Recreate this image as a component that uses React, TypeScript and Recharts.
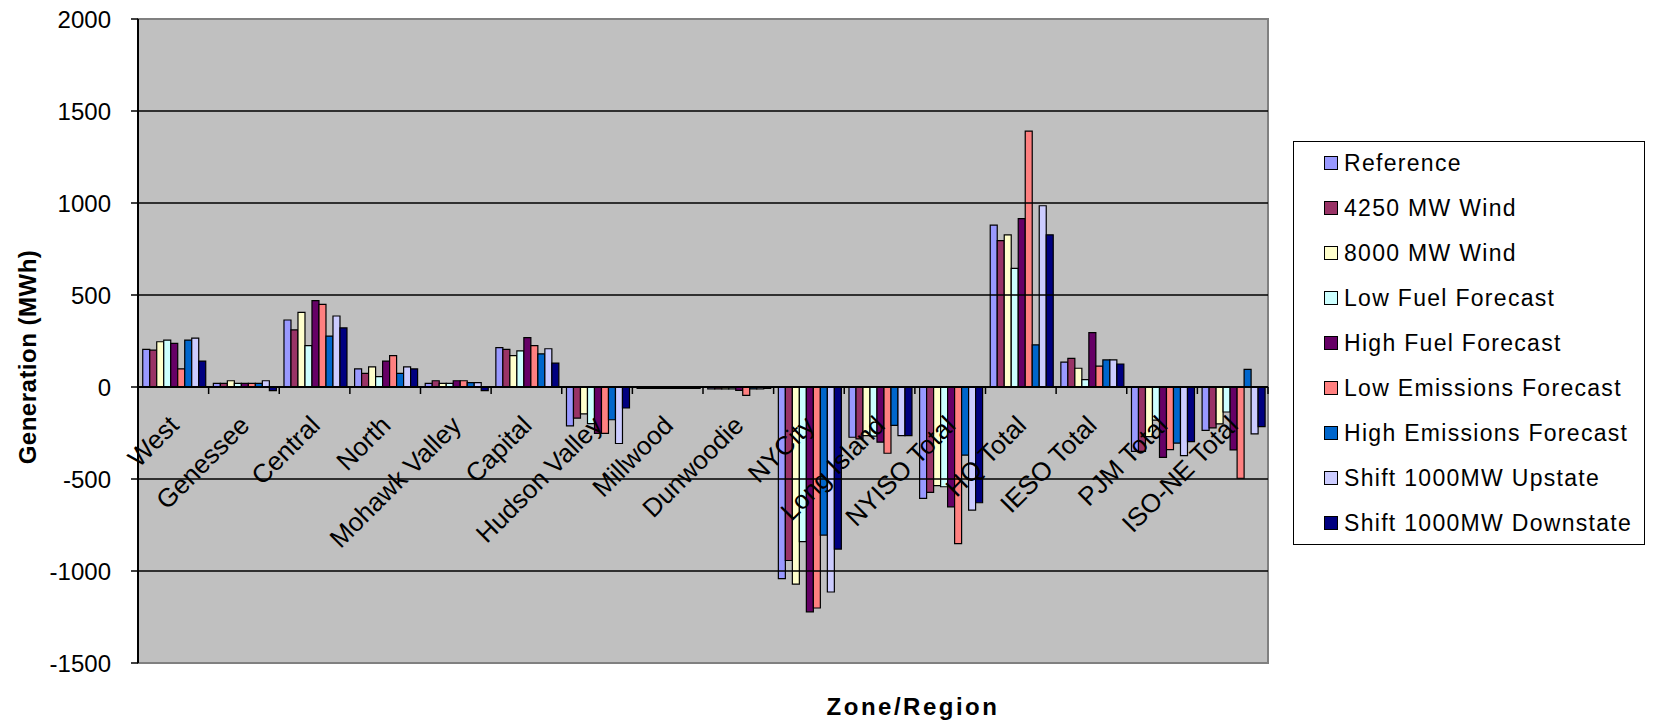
import React from 'react';
import { BarChart, Bar, XAxis, YAxis, ReferenceLine, ReferenceArea } from 'recharts';

const categories = [
  'West', 'Genessee', 'Central', 'North', 'Mohawk Valley', 'Capital', 'Hudson Valley',
  'Millwood', 'Dunwoodie', 'NYCity', 'Long Island', 'NYISO Total', 'HQ Total',
  'IESO Total', 'PJM Total', 'ISO-NE Total',
];

const referenceCase = [205, 20, 364, 98, 20, 214, -211, -8, -10, -1041, -273, -605, 880, 135, -350, -236];
const wind4250 = [200, 20, 310, 74, 34, 205, -169, -8, -10, -943, -282, -573, 796, 156, -350, -222];
const wind8000 = [246, 34, 406, 109, 20, 170, -146, -8, -10, -1071, -264, -536, 827, 102, -270, -200];
const lowFuel = [255, 20, 225, 56, 20, 196, -199, -8, -10, -840, -267, -542, 645, 40, -180, -136];
const highFuel = [237, 20, 469, 141, 34, 268, -252, -8, -18, -1222, -300, -651, 915, 296, -383, -342];
const lowEmissions = [98, 20, 449, 170, 34, 225, -252, -8, -45, -1201, -360, -851, 1391, 113, -340, -496];
const highEmissions = [255, 20, 277, 74, 24, 180, -178, -8, -10, -805, -209, -370, 229, 147, -305, 96];
const shiftUpstate = [266, 34, 386, 109, 24, 208, -307, -8, -10, -1114, -264, -669, 985, 147, -373, -255];
const shiftDownstate = [141, -20, 321, 98, -20, 130, -114, -8, -8, -881, -264, -629, 827, 125, -297, -215];

const seriesNames = [
  'Reference', '4250 MW Wind', '8000 MW Wind', 'Low Fuel Forecast', 'High Fuel Forecast',
  'Low Emissions Forecast', 'High Emissions Forecast', 'Shift 1000MW Upstate', 'Shift 1000MW Downstate',
];
const seriesValues = [
  referenceCase, wind4250, wind8000, lowFuel, highFuel, lowEmissions, highEmissions, shiftUpstate, shiftDownstate,
];
const seriesColors = [
  '#9999FF', '#993366', '#FFFFCC', '#CCFFFF', '#660066', '#FF8080', '#0066CC', '#CCCCFF', '#000080',
];

const yTicks = [-1500, -1000, -500, 0, 500, 1000, 1500, 2000];
const gridValues = [-1000, -500, 500, 1000, 1500];

const Y_MIN = -1500;
const Y_MAX = 2000;

const W = 1659;
const H = 726;
const M = { top: 19, right: 391, bottom: 33, left: 0 };
const Y_AXIS_W = 138;
const X_AXIS_H = 30;
const PLOT_W = W - M.left - M.right - Y_AXIS_W;
const PLOT_H = H - M.top - M.bottom - X_AXIS_H;
const ZERO_Y = M.top + (PLOT_H * Y_MAX) / (Y_MAX - Y_MIN);
const BAND = PLOT_W / categories.length;

const FONT = '"Liberation Sans", Arial, sans-serif';

const data = categories.map((name, i) => {
  const row: Record<string, string | number> = { name };
  seriesValues.forEach((vals, s) => {
    row['s' + s] = vals[i];
  });
  return row;
});

const CategoryTick = (props: any) => {
  const { x, index, payload } = props;
  const ax = x + 7;
  const ay = ZERO_Y + 40;
  return (
    <g>
      <line x1={x - BAND / 2} x2={x - BAND / 2} y1={ZERO_Y} y2={ZERO_Y + 7} stroke="#000" strokeWidth={1.5} />
      {index === categories.length - 1 && (
        <line x1={x + BAND / 2} x2={x + BAND / 2} y1={ZERO_Y} y2={ZERO_Y + 7} stroke="#000" strokeWidth={1.5} />
      )}
      <text
        x={ax}
        y={ay}
        textAnchor="end"
        transform={`rotate(-45 ${ax} ${ay})`}
        fontSize={26}
        fontFamily={FONT}
        fill="#000"
      >
        {payload.value}
      </text>
    </g>
  );
};

const Legend9 = () => (
  <div
    style={{
      position: 'absolute',
      left: 1293,
      top: 141,
      width: 350,
      height: 402,
      border: '1.5px solid #000',
      background: '#fff',
      fontFamily: FONT,
      fontSize: 23,
      color: '#000',
    }}
  >
    {seriesNames.map((n, i) => (
      <div
        key={n}
        style={{
          position: 'absolute',
          left: 30,
          top: 21 + i * 45 - 13,
          height: 26,
          display: 'flex',
          alignItems: 'center',
          whiteSpace: 'nowrap',
        }}
      >
        <span
          style={{
            display: 'inline-block',
            width: 12,
            height: 12,
            background: seriesColors[i],
            border: '1.5px solid #000',
            marginRight: 6,
          }}
        />
        <span style={{ letterSpacing: 1.3 }}>{n}</span>
      </div>
    ))}
  </div>
);

export default function App() {
  return (
    <div style={{ position: 'absolute', left: 0, top: 0, width: W, height: H, background: '#fff' }}>
      <BarChart
        width={W}
        height={H}
        data={data}
        margin={M}
        barCategoryGap="6.7%"
        barGap={0}
      >
        <ReferenceArea y1={Y_MIN} y2={Y_MAX} fill="#C0C0C0" fillOpacity={1} stroke="#808080" strokeWidth={2} ifOverflow="visible" />
        {gridValues.map((v) => (
          <ReferenceLine key={v} y={v} stroke="#000" strokeWidth={1.6} />
        ))}
        <XAxis
          dataKey="name"
          interval={0}
          axisLine={false}
          tickLine={false}
          height={X_AXIS_H}
          tick={<CategoryTick />}
        />
        <YAxis
          width={Y_AXIS_W}
          domain={[Y_MIN, Y_MAX]}
          ticks={yTicks}
          interval={0}
          allowDataOverflow
          axisLine={{ stroke: '#000', strokeWidth: 2 }}
          tickLine={{ stroke: '#000', strokeWidth: 1.5 }}
          tickSize={7}
          tickMargin={20}
          tick={{ fontSize: 24, fontFamily: FONT, fill: '#000' }}
        />
        {seriesNames.map((n, i) => (
          <Bar
            key={n}
            dataKey={'s' + i}
            name={n}
            fill={seriesColors[i]}
            stroke="#000"
            strokeWidth={1.2}
            isAnimationActive={false}
          />
        ))}
        <ReferenceLine y={0} stroke="#000" strokeWidth={2} />
      </BarChart>
      <Legend9 />
      <div
        style={{
          position: 'absolute',
          left: 28,
          top: 357,
          transform: 'translate(-50%, -50%) rotate(-90deg)',
          fontFamily: FONT,
          fontWeight: 'bold',
          fontSize: 24,
          whiteSpace: 'nowrap',
          letterSpacing: 0.5,
        }}
      >
        Generation (MWh)
      </div>
      <div
        style={{
          position: 'absolute',
          left: 913,
          top: 707,
          transform: 'translate(-50%, -50%)',
          fontFamily: FONT,
          fontWeight: 'bold',
          fontSize: 24,
          whiteSpace: 'nowrap',
          letterSpacing: 2.5,
        }}
      >
        Zone/Region
      </div>
    </div>
  );
}
